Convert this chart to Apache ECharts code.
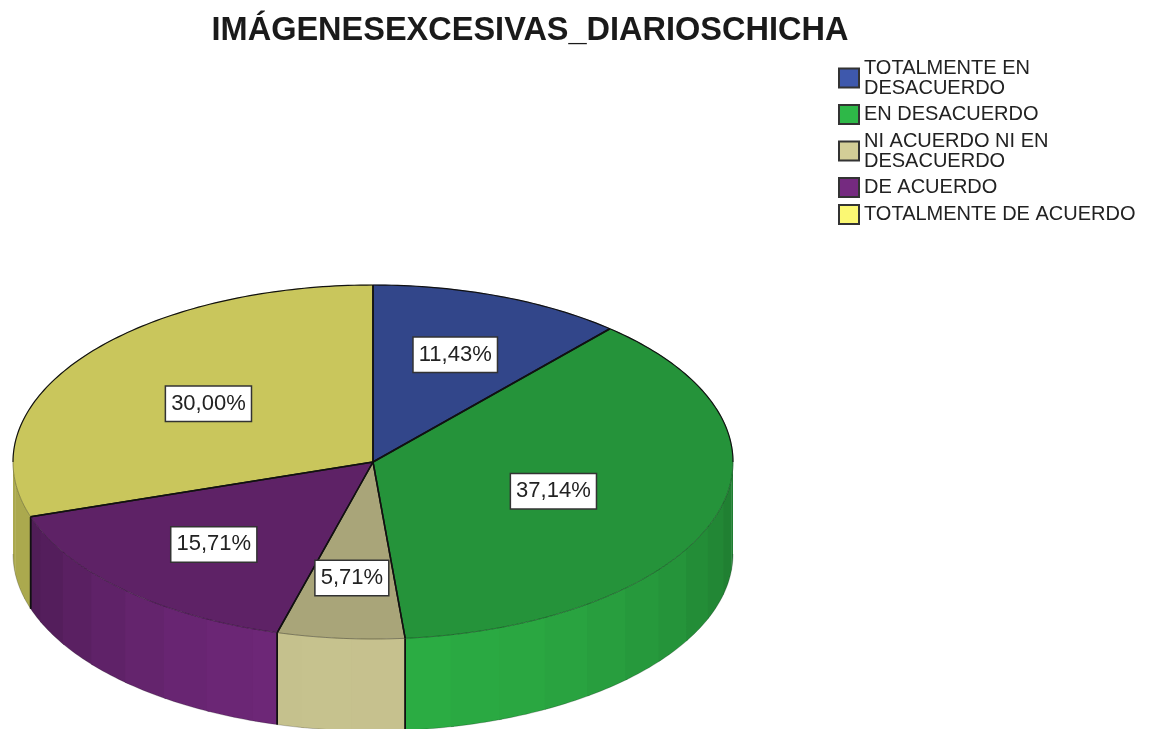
<!DOCTYPE html>
<html>
<head>
<meta charset="utf-8">
<style>html,body{margin:0;padding:0;background:#fff}#c{width:1152px;height:729px}</style>
<script src="https://cdn.jsdelivr.net/npm/echarts@6/dist/echarts.min.js"></script>
</head>
<body>
<div id="c"></div>
<script>
var categories = ['TOTALMENTE EN\nDESACUERDO', 'EN DESACUERDO', 'NI ACUERDO NI EN\nDESACUERDO', 'DE ACUERDO', 'TOTALMENTE DE ACUERDO'];
var percents = [11.43, 37.14, 5.71, 15.71, 30.00];
var percentLabels = ['11,43%', '37,14%', '5,71%', '15,71%', '30,00%'];
var colors = ['#3E58AC', '#2EB848', '#D3CE97', '#752A80', '#FBF873'];
var labelRadius = [0.65, 0.527, 0.655, 0.64, 0.565];

var CX = 373, CY = 462, RX = 360, RY = 177, DEPTH = 92, BAND = 8;

function rad(d) { return d * Math.PI / 180; }
function pt(a, dy) { return [CX + RX * Math.sin(rad(a)), CY - RY * Math.cos(rad(a)) + (dy || 0)]; }
function shade(hex, f) {
  var n = parseInt(hex.slice(1), 16);
  return 'rgb(' + Math.round((n >> 16 & 255) * f) + ',' + Math.round((n >> 8 & 255) * f) + ',' + Math.round((n & 255) * f) + ')';
}
function sideFactor(a) {
  var c = a > 185 ? Math.cos(rad((a - 185) * 1.4)) : Math.cos(rad(a - 185));
  return 0.68 + 0.26 * Math.max(0, c);
}
function arc(a0, a1, dy) {
  var out = [], n = Math.max(2, Math.ceil((a1 - a0)));
  for (var i = 0; i <= n; i++) out.push(pt(a0 + (a1 - a0) * i / n, dy));
  return out;
}

var total = percents.reduce(function (s, v) { return s + v; }, 0);

function makeRender(idx) {
  return function (params, api) {
    var value = api.value(0), start = 0;
    for (var k = 0; k < idx; k++) start += percents[k];
    var a0 = start / total * 360, a1 = a0 + value / total * 360;
    var base = colors[idx], kids = [];

    // front wall, in flat bands; each band runs under the next to hide seams
    var s0 = Math.max(a0, 90), s1 = Math.min(a1, 270);
    if (s1 > s0) {
      var bands = [], b = s0;
      while (b < s1) {
        var next = Math.min(s1, (Math.floor((b - 7) / BAND) + 1) * BAND + 7);
        if (next - b < 0.01) next = Math.min(s1, next + BAND);
        bands.push([b, next]);
        b = next;
      }
      bands.forEach(function (bd, n) {
        var end = Math.min(s1, bd[1] + 0.5);
        var poly = arc(bd[0], end, 0).concat(arc(bd[0], end, DEPTH).reverse());
        kids.push({ type: 'polygon', shape: { points: poly }, style: { fill: shade(base, sideFactor((bd[0] + bd[1]) / 2)) }, z2: 1 + (bands.length - n) * 0.001 });
      });
      kids.push({ type: 'polyline', shape: { points: arc(s0, s1, DEPTH) }, style: { fill: null, stroke: 'rgba(0,0,0,0.3)', lineWidth: 0.7 }, z2: 2 });
      [a0, a1].forEach(function (e) {
        if (e > 90 && e < 270) {
          kids.push({ type: 'line', shape: { x1: pt(e)[0], y1: pt(e)[1], x2: pt(e)[0], y2: pt(e)[1] + DEPTH }, style: { stroke: '#111', lineWidth: 1.5 }, z2: 3 });
        }
      });
    }

    // top face
    var topFill = shade(base, 0.8);
    kids.push({ type: 'polygon', shape: { points: [[CX, CY]].concat(arc(a0, a1, 0)) }, style: { fill: topFill, stroke: topFill, lineWidth: 0.5 }, z2: 4 });

    // rim: strong at the back, faint at the front
    function rim(p, q, stroke, w) {
      if (q > p) kids.push({ type: 'polyline', shape: { points: arc(p, q, 0) }, style: { fill: null, stroke: stroke, lineWidth: w }, z2: 5 });
    }
    rim(a0, Math.min(a1, 90), '#111', 1.2);
    rim(Math.max(a0, 270), a1, '#111', 1.2);
    rim(Math.max(a0, 90), Math.min(a1, 270), 'rgba(0,0,0,0.4)', 0.8);

    // radial edges
    [a0, a1].forEach(function (e) {
      var p = pt(e);
      kids.push({ type: 'line', shape: { x1: CX, y1: CY, x2: p[0], y2: p[1] }, style: { stroke: '#111', lineWidth: 1.5 }, z2: 6 });
    });

    // value label
    var mid = rad((a0 + a1) / 2), r = labelRadius[idx];
    kids.push({
      type: 'text', z2: 20,
      style: {
        x: CX + RX * r * Math.sin(mid), y: CY - RY * r * Math.cos(mid) + 0.5,
        text: percentLabels[idx], align: 'center', verticalAlign: 'middle',
        font: '22px "Liberation Sans", Arial, sans-serif', fill: '#222',
        backgroundColor: '#fff', borderColor: '#333', borderWidth: 1.5,
        padding: [6, 5, 6, 5]
      }
    });
    return { type: 'group', children: kids };
  };
}

var chart = echarts.init(document.getElementById('c'), null, { renderer: 'canvas' });
chart.setOption({
  animation: false,
  backgroundColor: '#fff',
  title: {
    text: 'IMÁGENESEXCESIVAS_DIARIOSCHICHA',
    left: 525, top: 10, textAlign: 'center',
    textStyle: { fontFamily: '"Liberation Sans", Arial, sans-serif', fontWeight: 'bold', fontSize: 32.5, color: '#1a1a1a' }
  },
  legend: {
    orient: 'vertical', left: 838, top: 58, padding: 0,
    itemWidth: 20, itemHeight: 19, itemGap: 6, selectedMode: false, icon: 'rect',
    itemStyle: { borderColor: '#333', borderWidth: 2 },
    textStyle: { fontFamily: '"Liberation Sans", Arial, sans-serif', fontSize: 20, lineHeight: 20, color: '#222' },
    data: categories
  },
  tooltip: { show: false },
  series: categories.map(function (name, i) {
    return {
      type: 'custom', name: name, coordinateSystem: 'none', silent: true,
      itemStyle: { color: colors[i] },
      renderItem: makeRender(i),
      data: [[percents[i]]]
    };
  })
});
</script>
</body>
</html>
